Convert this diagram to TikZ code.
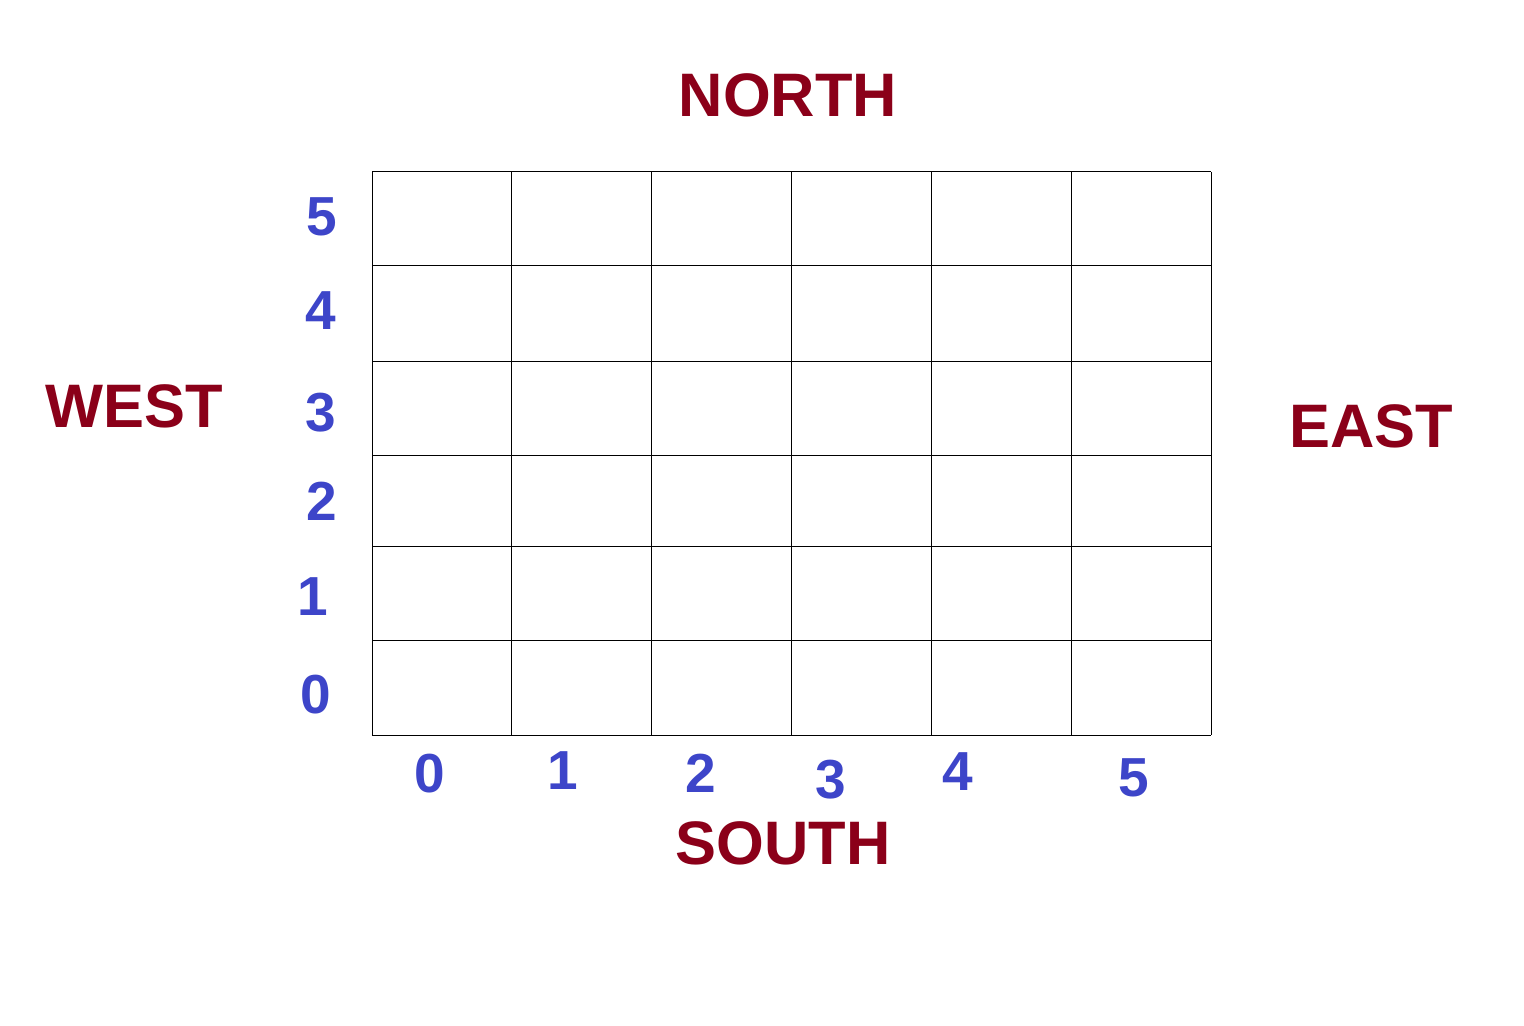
\documentclass[tikz,border=0pt]{standalone}
\usepackage{fontspec}
\setmainfont{Liberation Sans}
\definecolor{dirred}{HTML}{8B0019}
\definecolor{numblue}{HTML}{3D45C9}
\begin{document}
\begin{tikzpicture}[x=0.5pt,y=-0.5pt,
  dirlabel/.style={font=\fontsize{30.7}{34}\selectfont\bfseries, text=dirred, inner sep=0pt, text height=22pt, text depth=0pt},
  numlabel/.style={font=\fontsize{27.5}{30}\selectfont\bfseries, text=numblue, inner sep=0pt, text height=19.7pt, text depth=0pt},
  gridline/.style={line width=0.5pt, black}]
\useasboundingbox[fill=white] (0,0) rectangle (1524,1026);
% grid
\foreach \x in {372,511,651,791,931,1071,1211}
  \draw[gridline] (\x,172) -- (\x,735);
\foreach \y in {172,266,361,455,546,640,735}
  \draw[gridline] (372,\y) -- (1211,\y);
% directions
\node[dirlabel] (north) at (788,95) {NORTH};
\node[dirlabel] (west) at (134,405) {WEST};
\node[dirlabel] (east) at (1371,425) {EAST};
\node[dirlabel] (south) at (783,842) {SOUTH};
% left numbers
\node[numlabel] (l5) at (322,216) {5};
\node[numlabel] (l4) at (321,310) {4};
\node[numlabel] (l3) at (321,412) {3};
\node[numlabel] (l2) at (322,501) {2};
\node[numlabel] (l1) at (313,596) {1};
\node[numlabel] (l0) at (316,694) {0};
% bottom numbers
\node[numlabel] (b0) at (430,773) {0};
\node[numlabel] (b1) at (563,770) {1};
\node[numlabel] (b2) at (701,773) {2};
\node[numlabel] (b3) at (831,779) {3};
\node[numlabel] (b4) at (958,771) {4};
\node[numlabel] (b5) at (1134,777) {5};
\end{tikzpicture}
\end{document}
